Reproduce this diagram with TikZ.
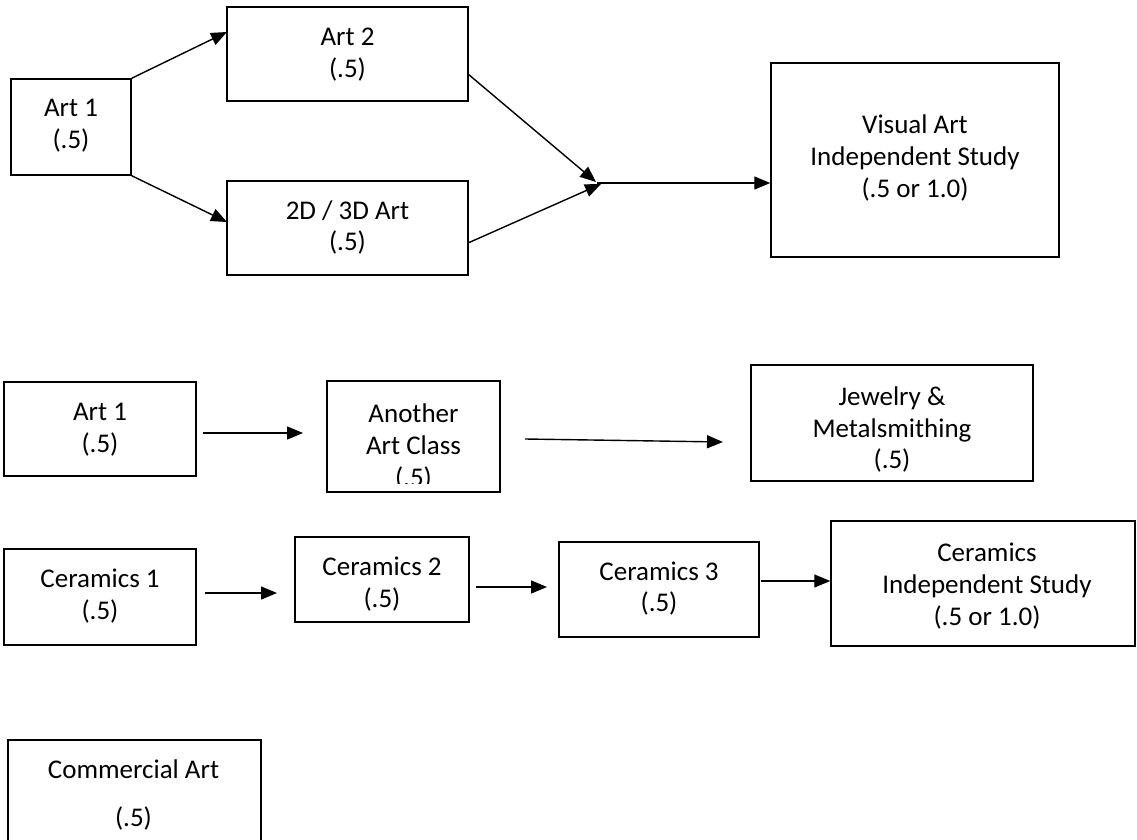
\documentclass[tikz,border=0pt]{standalone}
\usepackage{fontspec}
\setmainfont{Carlito}
\usetikzlibrary{arrows.meta,calc}
\tikzset{
  box/.style={draw, line width=1.5pt, inner sep=0pt},
  txt/.style={align=center, inner sep=0pt, font=\fontsize{27}{31.7}\selectfont},
  conn/.style={line width=1.4pt, -{Triangle[length=16pt,width=13pt]}},
}
\begin{document}
\begin{tikzpicture}[x=1pt,y=-1pt]
\useasboundingbox (0,0) rectangle (1137,840);
\clip (0,0) rectangle (1137,840);
% ---- top group
\node[box, minimum width=120pt, minimum height=96pt] (ta1) at (71,127) {};
\node[txt] (ta1t) at (71,126) {Art 1\\(.5)};
\node[box, minimum width=241pt, minimum height=94pt] (a2) at (347.5,54) {};
\node[txt] (a2t) at (347.5,54.5) {Art 2\\(.5)};
\node[box, minimum width=241pt, minimum height=94pt] (a3d) at (347.5,228) {};
\node[txt] (a3dt) at (347.5,227.5) {2D / 3D Art\\(.5)};
\node[box, minimum width=288pt, minimum height=194pt] (vis) at (915,160) {};
\node[txt] (vist) at (915,158) {Visual Art\\Independent Study\\(.5 or 1.0)};
\coordinate (a2in) at (227,32);
\coordinate (a3din) at (227,222);
\coordinate (a2out) at (468,74);
\coordinate (a3dout) at (468,243);
\coordinate (m1) at (596,182);
\coordinate (m2) at (601,184);
\coordinate (merge) at (597,183);
\draw[conn] (ta1.north east) -- (a2in);
\draw[conn] (ta1.south east) -- (a3din);
\draw[conn] (a2out) -- (m1);
\draw[conn] (a3dout) -- (m2);
\draw[conn] (merge) -- (vis.west |- merge);
% ---- middle group
\node[box, minimum width=192pt, minimum height=94pt] (ma1) at (100,429) {};
\node[txt] (ma1t) at (100,430) {Art 1\\(.5)};
\node[box, minimum width=173pt, minimum height=111pt] (an) at (413.5,436.5) {};
\begin{scope}
\clip ($(an.south west)+(0,-9)$) rectangle (an.north east);
\node[txt] (ant) at (413.5,447) {Another\\Art Class\\(.5)};
\end{scope}
\node[box, minimum width=282pt, minimum height=116pt] (jw) at (892,423) {};
\node[txt] (jwt) at (892,429.5) {Jewelry \&\\Metalsmithing\\(.5)};
\coordinate (c1s) at (203,433);
\coordinate (c1e) at (303,433);
\coordinate (c2s) at (525,439);
\coordinate (c2e) at (723,442);
\draw[conn] (c1s) -- (c1e);
\draw[conn] (c2s) -- (c2e);
% ---- ceramics
\node[box, minimum width=192pt, minimum height=96pt] (ce1) at (100,597) {};
\node[txt] (ce1t) at (100,596) {Ceramics 1\\(.5)};
\node[box, minimum width=174pt, minimum height=85pt] (ce2) at (382,579.5) {};
\node[txt] (ce2t) at (382,584) {Ceramics 2\\(.5)};
\node[box, minimum width=200pt, minimum height=95pt] (ce3) at (659,589.5) {};
\node[txt] (ce3t) at (659,588.5) {Ceramics 3\\(.5)};
\node[box, minimum width=304pt, minimum height=125pt] (cis) at (983,583.5) {};
\node[txt] (cist) at (987,586) {Ceramics\\Independent Study\\(.5 or 1.0)};
\coordinate (d1s) at (205,593);
\coordinate (d1e) at (277,593);
\coordinate (d2s) at (476,587);
\coordinate (d2e) at (547,587);
\coordinate (d3s) at (761,581);
\draw[conn] (d1s) -- (d1e);
\draw[conn] (d2s) -- (d2e);
\draw[conn] (d3s) -- (cis.west |- d3s);
% ---- commercial art
\node[box, minimum width=253pt, minimum height=140pt, anchor=north west] (cm) at (7,739) {};
\node[txt] (cmt) at (133.5,795) {Commercial Art\\[16.3pt](.5)};
\end{tikzpicture}
\end{document}
